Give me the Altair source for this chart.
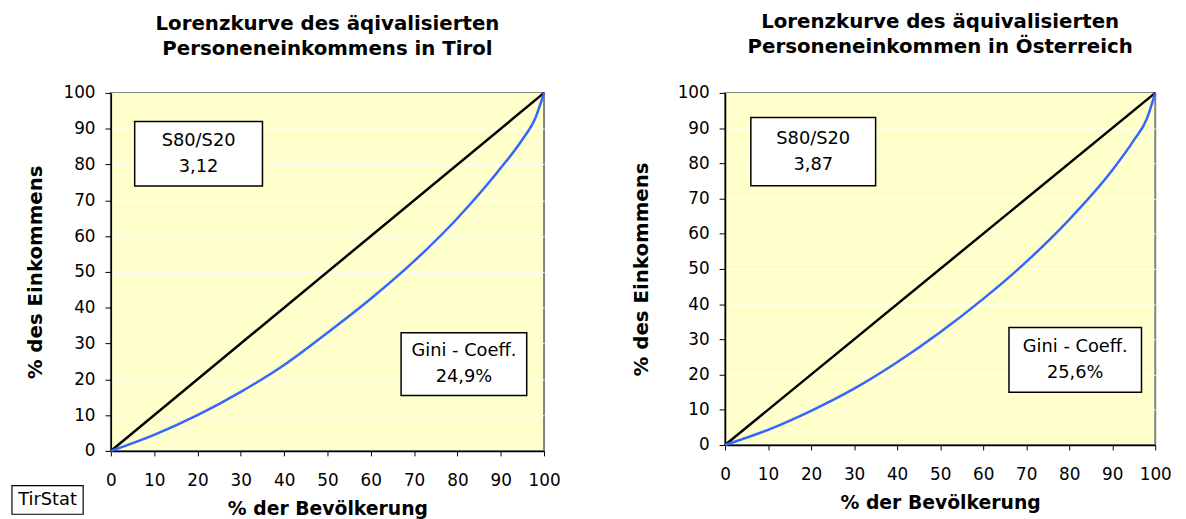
import altair as alt
import pandas as pd

# ---- data ----
pop_share = [0, 10, 20, 30, 40, 50, 60, 70, 80, 90, 95, 98, 100]
tirol_income = [0, 4.5, 10, 16.5, 24, 33, 42.5, 53, 65, 79, 87, 93, 100]
austria_income = [0, 4.3, 9.7, 16, 23.5, 32, 41.5, 52, 64, 78, 86.5, 92.5, 100]
equality_x = [0, 100]
equality_y = [0, 100]

titles = [
    ["Lorenzkurve des äqivalisierten", "Personeneinkommens in Tirol"],
    ["Lorenzkurve des äquivalisierten", "Personeneinkommen in Österreich"],
]
s80_labels = ["S80/S20\n3,12", "S80/S20\n3,87"]
gini_labels = ["Gini - Coeff.\n24,9%", "Gini - Coeff.\n25,6%"]
tick_values = [0, 10, 20, 30, 40, 50, 60, 70, 80, 90, 100]
source_label = "TirStat"

FONT = "DejaVu Sans"
BG = "#FFFFCC"
CURVE = "#3366FF"
BOX_LH = 26


def panel(title_lines, income, s80, gini, w, h, s80_box, gini_box, ytitle_pad, title_offset, tirstat=False):
    xs = alt.Scale(domain=[0, 100], nice=False, zero=True)
    ys = alt.Scale(domain=[0, 100], nice=False, zero=True)
    xaxis = alt.Axis(values=tick_values, title="% der Bevölkerung", grid=False,
                     tickSize=5, labelPadding=17, titlePadding=11,
                     labelFlush=False, labelOverlap=False)
    yaxis = alt.Axis(values=tick_values, title="% des Einkommens", grid=True,
                     gridColor="white", gridWidth=1, tickSize=6, labelPadding=10,
                     titlePadding=ytitle_pad, titleFontSize=20,
                     labelFlush=False, labelOverlap=False)

    def X(field):
        return alt.X(field, scale=xs, axis=xaxis)

    def Y(field):
        return alt.Y(field, scale=ys, axis=yaxis)

    curve_df = pd.DataFrame({"x": pop_share, "y": income})
    diag_df = pd.DataFrame({"x": equality_x, "y": equality_y})

    diag = alt.Chart(diag_df).mark_line(color="black", strokeWidth=2.5).encode(
        x=X("x:Q"), y=Y("y:Q"))
    curve = alt.Chart(curve_df).mark_line(color=CURVE, strokeWidth=2.5, interpolate="monotone").encode(
        x=X("x:Q"), y=Y("y:Q"))

    boxes = pd.DataFrame({
        "x": [s80_box[0], gini_box[0]], "x2": [s80_box[1], gini_box[1]],
        "y": [s80_box[2], gini_box[2]], "y2": [s80_box[3], gini_box[3]],
        "label": [s80, gini],
    })
    boxes["cx"] = (boxes["x"] + boxes["x2"]) / 2
    boxes["cy"] = (boxes["y"] + boxes["y2"]) / 2
    rects = alt.Chart(boxes).mark_rect(fill="white", stroke="black", strokeWidth=1.5).encode(
        x=X("x:Q"), x2="x2:Q", y=Y("y:Q"), y2="y2:Q")
    texts = alt.Chart(boxes).mark_text(font=FONT, fontSize=18, lineBreak="\n", lineHeight=BOX_LH,
                                       baseline="middle", align="center", dy=-BOX_LH / 2).encode(
        x=X("cx:Q"), y=Y("cy:Q"), text="label:N")

    layers = [diag, curve, rects, texts]
    if tirstat:
        ts = alt.Chart(pd.DataFrame({"t": [source_label]}))
        layers.append(ts.mark_rect(fill="white", stroke="black", strokeWidth=1.2).encode(
            x=alt.value(-100), x2=alt.value(-28), y=alt.value(397), y2=alt.value(426)))
        layers.append(ts.mark_text(font=FONT, fontSize=18, baseline="middle", align="center").encode(
            x=alt.value(-64), y=alt.value(411.5), text="t:N"))

    return alt.layer(*layers).properties(
        width=w, height=h,
        title=alt.TitleParams(title_lines, font=FONT, fontSize=20, fontWeight="bold",
                              lineHeight=26, anchor="middle", offset=title_offset),
    )


left = panel(titles[0], tirol_income, s80_labels[0], gini_labels[0], 438, 362,
             (5.5, 35, 92, 74), (67, 96, 33, 15.5), 18, 25, tirstat=True)
right = panel(titles[1], austria_income, s80_labels[1], gini_labels[1], 435, 356,
              (6, 35, 93, 73.6), (66, 96.8, 33.4, 15), 26, 27)

chart = alt.hconcat(left, right, spacing=69).properties(
    padding={"left": 2, "top": 0, "right": 5, "bottom": 0}
).configure_view(
    fill=BG, stroke="#808080", strokeWidth=2
).configure_axis(
    labelFont=FONT, titleFont=FONT, labelFontSize=17, titleFontSize=19,
    titleFontWeight="bold", labelColor="black", titleColor="black",
    domainColor="black", tickColor="black", domainWidth=1.5, tickWidth=1
).configure_concat(spacing=69)

chart.save("out.html", embed_options={"renderer": "svg", "actions": False})
